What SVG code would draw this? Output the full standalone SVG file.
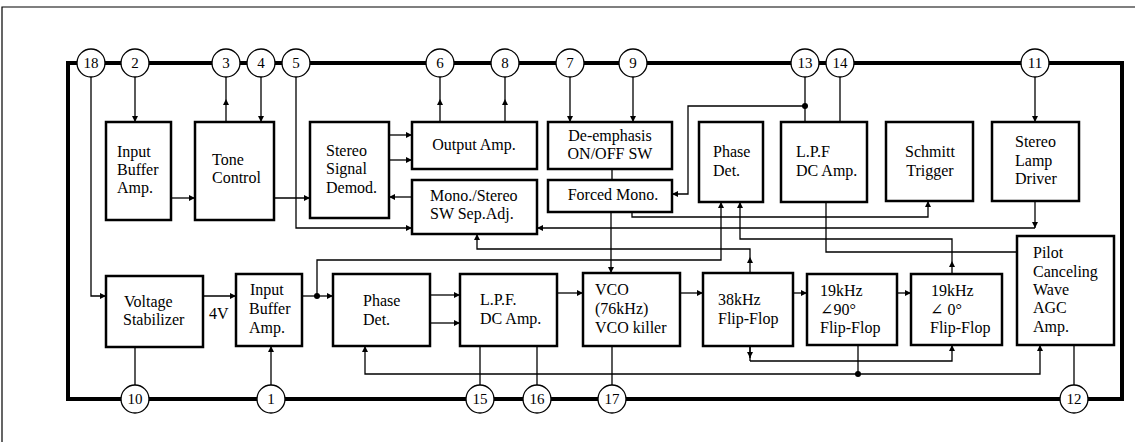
<svg xmlns="http://www.w3.org/2000/svg" width="1139" height="442" viewBox="0 0 1139 442">
<defs>
<style>
.frame{fill:none;stroke:#000;stroke-width:1.2}
.chip{fill:none;stroke:#000;stroke-width:4}
.box{fill:#fff;stroke:#000;stroke-width:2.5}
.pin{fill:#fff;stroke:#000;stroke-width:1.3}
.w{fill:none;stroke:#000;stroke-width:1.3}
.a{fill:none;stroke:#000;stroke-width:1.3;marker-end:url(#ah)}
.t{font-family:"Liberation Serif","DejaVu Serif",serif;font-size:16px;fill:#000}
.c{text-anchor:middle}
.pn{font-family:"Liberation Serif","DejaVu Serif",serif;font-size:15px;fill:#000;text-anchor:middle}
.dot{fill:#000}
</style>
<marker id="ah" viewBox="0 0 10 10" refX="10" refY="5" markerWidth="8" markerHeight="6" markerUnits="userSpaceOnUse" orient="auto"><path d="M0,0 L10,5 L0,10 z" fill="#000"/></marker>
</defs>
<rect x="0" y="0" width="1139" height="442" fill="#fff"/>
<path class="frame" d="M2,442 V7 H1135"/>
<rect class="chip" x="68" y="63" width="1054" height="336"/>

<g id="connectors">
<path class="a" d="M135,77 V122"/>
<path class="a" d="M226,122 V99"/><path class="w" d="M226,99 V77"/>
<path class="a" d="M261,77 V122"/>
<path class="a" d="M296,77 V228 H412"/>
<path class="a" d="M171,198 H195"/>
<path class="a" d="M274,198 H310"/>
<path class="a" d="M389,135 H412"/>
<path class="a" d="M389,160 H412"/>
<path class="a" d="M412,197 H389"/>
<path class="a" d="M440,122 V99"/><path class="w" d="M440,99 V77"/>
<path class="a" d="M505,122 V99"/><path class="w" d="M505,99 V77"/>
<path class="a" d="M570,77 V122"/>
<path class="a" d="M633,77 V122"/>
<path class="w" d="M612,169 V180"/>
<path class="w" d="M805,77 V122"/>
<path class="a" d="M805,106 H688 V194 H672"/>
<circle class="dot" cx="805" cy="106" r="3"/>
<path class="w" d="M840,77 V122"/>
<path class="a" d="M1035,77 V122"/>
<path class="a" d="M1035,201 V228"/>
<path class="a" d="M1035,228 H537"/>
<path class="a" d="M632,212 V217 H928 V201"/>
<path class="a" d="M611,212 V273"/>
<path class="a" d="M317,296 V260 H721 V202"/>
<path class="a" d="M750,273 V257"/>
<path class="a" d="M750,257 V249 H477 V234"/>
<path class="a" d="M952,274 V261"/>
<path class="a" d="M952,261 V239 H740 V202"/>
<path class="w" d="M826,202 V252 H1017"/>
<path class="a" d="M91,77 V296 H106"/>
<path class="a" d="M203,296 H236"/>
<path class="w" d="M135,385 V347"/>
<path class="a" d="M271,385 V346"/>
<path class="a" d="M302,296 H333"/>
<circle class="dot" cx="317" cy="296" r="3"/>
<path class="a" d="M430,295 H460"/>
<path class="a" d="M430,323 H460"/>
<path class="a" d="M557,293 H583"/>
<path class="a" d="M680,293 H703"/>
<path class="a" d="M793,293 H807"/>
<path class="a" d="M897,293 H911"/>
<path class="w" d="M480,346 V385"/>
<path class="w" d="M537,346 V385"/>
<path class="w" d="M612,346 V385"/>
<path class="w" d="M858,345 V374"/>
<path class="a" d="M858,374 H365 V346"/>
<path class="a" d="M858,374 H1040 V345"/>
<circle class="dot" cx="858" cy="374" r="3"/>
<path class="a" d="M750,361 H952 V345"/>
<path class="w" d="M750,346 V361"/>
<path class="a" d="M750,347 V358"/>
<path class="w" d="M1074,345 V385"/>
</g>

<g id="pin18"><circle class="pin" cx="91" cy="63" r="14"/><text class="pn" x="91" y="68">18</text></g>
<g id="pin2"><circle class="pin" cx="135" cy="63" r="14"/><text class="pn" x="135" y="68">2</text></g>
<g id="pin3"><circle class="pin" cx="226" cy="63" r="14"/><text class="pn" x="226" y="68">3</text></g>
<g id="pin4"><circle class="pin" cx="261" cy="63" r="14"/><text class="pn" x="261" y="68">4</text></g>
<g id="pin5"><circle class="pin" cx="296" cy="63" r="14"/><text class="pn" x="296" y="68">5</text></g>
<g id="pin6"><circle class="pin" cx="440" cy="63" r="14"/><text class="pn" x="440" y="68">6</text></g>
<g id="pin8"><circle class="pin" cx="505" cy="63" r="14"/><text class="pn" x="505" y="68">8</text></g>
<g id="pin7"><circle class="pin" cx="570" cy="63" r="14"/><text class="pn" x="570" y="68">7</text></g>
<g id="pin9"><circle class="pin" cx="633" cy="63" r="14"/><text class="pn" x="633" y="68">9</text></g>
<g id="pin13"><circle class="pin" cx="805" cy="63" r="14"/><text class="pn" x="805" y="68">13</text></g>
<g id="pin14"><circle class="pin" cx="840" cy="63" r="14"/><text class="pn" x="840" y="68">14</text></g>
<g id="pin11"><circle class="pin" cx="1035" cy="63" r="14"/><text class="pn" x="1035" y="68">11</text></g>
<g id="pin10"><circle class="pin" cx="135" cy="399" r="14"/><text class="pn" x="135" y="404">10</text></g>
<g id="pin1"><circle class="pin" cx="271" cy="399" r="14"/><text class="pn" x="271" y="404">1</text></g>
<g id="pin15"><circle class="pin" cx="480" cy="399" r="14"/><text class="pn" x="480" y="404">15</text></g>
<g id="pin16"><circle class="pin" cx="537" cy="399" r="14"/><text class="pn" x="537" y="404">16</text></g>
<g id="pin17"><circle class="pin" cx="612" cy="399" r="14"/><text class="pn" x="612" y="404">17</text></g>
<g id="pin12"><circle class="pin" cx="1074" cy="399" r="14"/><text class="pn" x="1074" y="404">12</text></g>

<g id="input-buffer-amp-1"><rect class="box" x="106" y="122" width="65" height="98"/><text class="t" x="117" y="157">Input</text><text class="t" x="117" y="175">Buffer</text><text class="t" x="117" y="193">Amp.</text></g>
<g id="tone-control"><rect class="box" x="195" y="122" width="79" height="98"/><text class="t" x="212" y="165">Tone</text><text class="t" x="212" y="183">Control</text></g>
<g id="stereo-signal-demod"><rect class="box" x="310" y="122" width="79" height="96"/><text class="t" x="326" y="156">Stereo</text><text class="t" x="326" y="174">Signal</text><text class="t" x="326" y="193">Demod.</text></g>
<g id="output-amp"><rect class="box" x="412" y="122" width="125" height="47"/><text class="t c" x="474" y="150">Output Amp.</text></g>
<g id="mono-stereo-sw"><rect class="box" x="412" y="180" width="125" height="54"/><text class="t" x="430" y="201">Mono./Stereo</text><text class="t" x="430" y="219">SW Sep.Adj.</text></g>
<g id="de-emphasis"><rect class="box" x="548" y="122" width="124" height="47"/><text class="t c" x="610" y="141">De-emphasis</text><text class="t c" x="610" y="159">ON/OFF SW</text></g>
<g id="forced-mono"><rect class="box" x="548" y="180" width="124" height="32"/><text class="t c" x="613" y="200">Forced Mono.</text></g>
<g id="phase-det-1"><rect class="box" x="699" y="122" width="64" height="80"/><text class="t" x="713" y="157">Phase</text><text class="t" x="713" y="176">Det.</text></g>
<g id="lpf-dc-amp-1"><rect class="box" x="781" y="122" width="86" height="80"/><text class="t" x="796" y="157">L.P.F</text><text class="t" x="796" y="176">DC Amp.</text></g>
<g id="schmitt-trigger"><rect class="box" x="886" y="122" width="87" height="79"/><text class="t c" x="930" y="157">Schmitt</text><text class="t c" x="930" y="176">Trigger</text></g>
<g id="stereo-lamp-driver"><rect class="box" x="992" y="122" width="87" height="79"/><text class="t" x="1015" y="147">Stereo</text><text class="t" x="1015" y="166">Lamp</text><text class="t" x="1015" y="184">Driver</text></g>

<g id="voltage-stabilizer"><rect class="box" x="106" y="276" width="97" height="71"/><text class="t" x="124" y="307">Voltage</text><text class="t" x="123" y="325">Stabilizer</text></g>
<g id="label-4v"><text class="t" x="209" y="319">4V</text></g>
<g id="input-buffer-amp-2"><rect class="box" x="236" y="274" width="66" height="72"/><text class="t" x="250" y="295">Input</text><text class="t" x="249" y="314">Buffer</text><text class="t" x="249" y="333">Amp.</text></g>
<g id="phase-det-2"><rect class="box" x="333" y="274" width="97" height="72"/><text class="t" x="363" y="306">Phase</text><text class="t" x="363" y="325">Det.</text></g>
<g id="lpf-dc-amp-2"><rect class="box" x="460" y="274" width="97" height="72"/><text class="t" x="480" y="305">L.P.F.</text><text class="t" x="480" y="324">DC Amp.</text></g>
<g id="vco"><rect class="box" x="583" y="273" width="97" height="73"/><text class="t" x="595" y="295">VCO</text><text class="t" x="595" y="314">(76kHz)</text><text class="t" x="595" y="333">VCO killer</text></g>
<g id="ff-38k"><rect class="box" x="703" y="273" width="90" height="73"/><text class="t" x="718" y="305">38kHz</text><text class="t" x="718" y="324">Flip-Flop</text></g>
<g id="ff-19k-90"><rect class="box" x="807" y="274" width="90" height="71"/><text class="t" x="820" y="296">19kHz</text><text class="t" x="820" y="315">∠90°</text><text class="t" x="820" y="333">Flip-Flop</text></g>
<g id="ff-19k-0"><rect class="box" x="911" y="274" width="91" height="71"/><text class="t" x="931" y="296">19kHz</text><text class="t" x="930" y="315">∠ 0°</text><text class="t" x="930" y="333">Flip-Flop</text></g>
<g id="pilot-canceling"><rect class="box" x="1017" y="236" width="97" height="109"/><text class="t" x="1033" y="258">Pilot</text><text class="t" x="1033" y="277">Canceling</text><text class="t" x="1033" y="295">Wave</text><text class="t" x="1033" y="313">AGC</text><text class="t" x="1033" y="332">Amp.</text></g>
</svg>
